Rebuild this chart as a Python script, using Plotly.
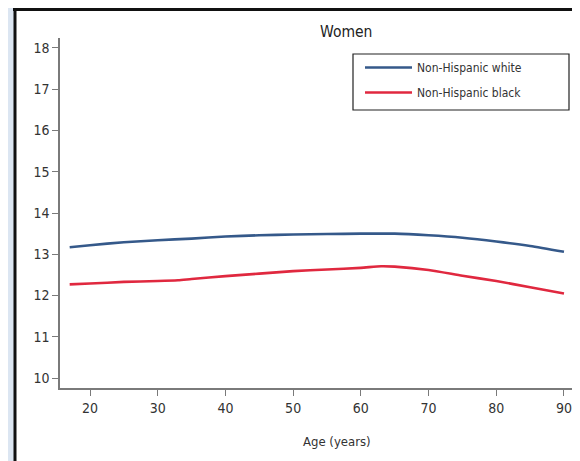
import plotly.graph_objects as go

# ---- data ----
ages_white = [17, 20, 25, 30, 35, 40, 45, 50, 55, 60, 63, 65, 70, 75, 80, 85, 90]
white_vals = [13.17, 13.22, 13.29, 13.34, 13.38, 13.43, 13.46, 13.48, 13.49, 13.50, 13.50, 13.50, 13.46, 13.40, 13.31, 13.20, 13.06]

ages_black = [17, 20, 25, 30, 33, 35, 40, 45, 50, 55, 60, 63, 65, 70, 75, 80, 85, 90]
black_vals = [12.27, 12.29, 12.33, 12.35, 12.37, 12.40, 12.47, 12.53, 12.59, 12.63, 12.67, 12.71, 12.70, 12.62, 12.48, 12.35, 12.20, 12.05]

x_ticks = [20, 30, 40, 50, 60, 70, 80, 90]
y_ticks = [10, 11, 12, 13, 14, 15, 16, 17, 18]
series_names = ["Non-Hispanic white", "Non-Hispanic black"]
title_text = "Women"
x_title = "Age (years)"

# ---- layout geometry (page pixels; the page body adds an 8px offset) ----
OFF = 8
WIN_W, WIN_H = 580, 461
W, H = WIN_W - OFF, WIN_H - OFF
# plot area in page pixels
PL, PR, PT, PB = 60, 573, 38, 388


def fx(px):
    return (px - PL) / (PR - PL)


def fy(py):
    return (PB - py) / (PB - PT)


FONT = "DejaVu Sans Condensed, Liberation Sans Narrow, sans-serif"

fig = go.Figure()
fig.add_trace(go.Scatter(x=ages_white, y=white_vals, mode="lines", name=series_names[0],
                         line=dict(color="#35598a", width=2.6, shape="spline", smoothing=0.6),
                         legendgroup="w"))
fig.add_trace(go.Scatter(x=ages_black, y=black_vals, mode="lines", name=series_names[1],
                         line=dict(color="#e0283f", width=2.6, shape="spline", smoothing=0.6),
                         legendgroup="b"))

shapes = [
    # white panel
    dict(type="rect", xref="paper", yref="paper", x0=fx(15), x1=fx(590), y0=fy(470), y1=fy(7),
         fillcolor="white", line=dict(width=0), layer="below"),
    # dark top border
    dict(type="rect", xref="paper", yref="paper", x0=fx(13), x1=fx(574), y0=fy(11), y1=fy(7),
         fillcolor="#111111", line=dict(width=0), layer="below"),
    # dark left border
    dict(type="rect", xref="paper", yref="paper", x0=fx(13.5), x1=fx(16.5), y0=fy(470), y1=fy(7),
         fillcolor="#111111", line=dict(width=0), layer="below"),
    # legend frame
    dict(type="rect", xref="paper", yref="paper", x0=fx(353), x1=fx(569), y0=fy(110), y1=fy(54),
         fillcolor="rgba(0,0,0,0)", line=dict(color="#222222", width=1.2), layer="above"),
]

annotations = [
    dict(text=title_text, xref="paper", yref="paper", x=fx(346), y=fy(32), xanchor="center",
         yanchor="middle", showarrow=False, font=dict(family=FONT, size=15.5, color="#222222")),
    dict(text=x_title, xref="paper", yref="paper", x=fx(337), y=fy(441), xanchor="center",
         yanchor="middle", showarrow=False, font=dict(family=FONT, size=13, color="#333333")),
]

axis_common = dict(showgrid=False, zeroline=False, showline=True, linecolor="#7a7a7a", linewidth=1.5,
                   ticks="outside", ticklen=6, tickwidth=1.2, tickcolor="#7a7a7a",
                   tickfont=dict(family=FONT, size=14, color="#333333"))

fig.update_layout(
    width=W, height=H,
    margin=dict(l=PL - OFF, r=WIN_W - PR, t=PT - OFF, b=WIN_H - PB, pad=0),
    paper_bgcolor="#dce6f2",
    plot_bgcolor="white",
    showlegend=True,
    legend=dict(x=fx(360), y=fy(53), xanchor="left", yanchor="top", bgcolor="rgba(0,0,0,0)",
                borderwidth=0, font=dict(family=FONT, size=12, color="#333333"),
                traceorder="grouped", tracegroupgap=6, itemwidth=47),
    shapes=shapes,
    annotations=annotations,
    xaxis=dict(range=[15.57, 91.33], tickvals=x_ticks, **axis_common),
    yaxis=dict(range=[9.758, 18.242], tickvals=y_ticks, **axis_common),
)

fig.write_html("out.html")
